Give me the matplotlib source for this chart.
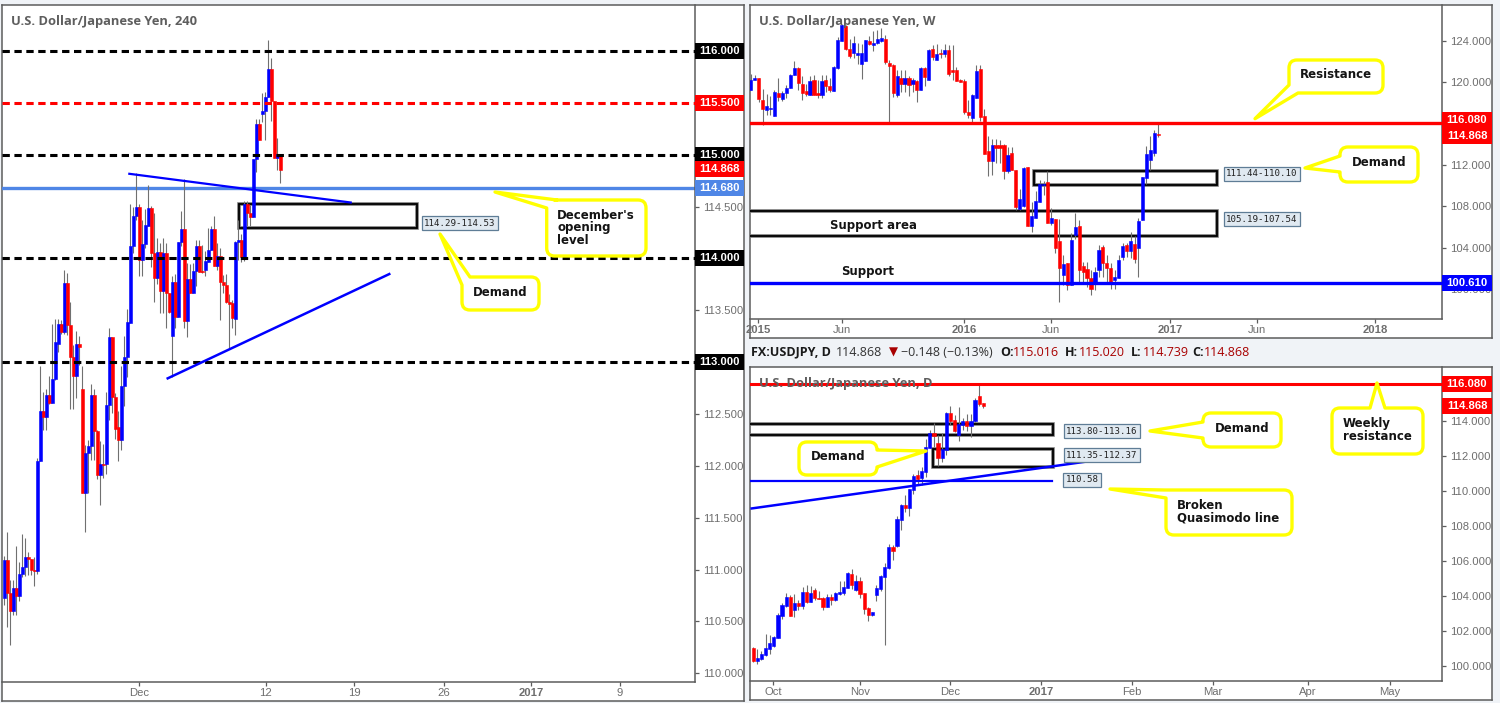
import numpy as np
import matplotlib
matplotlib.use("Agg")
import matplotlib.pyplot as plt
from matplotlib.path import Path
from matplotlib.patches import PathPatch, Rectangle
from matplotlib.transforms import blended_transform_factory

# 4 hour candles
h4_open = [110.73,111.09,110.77,110.60,110.82,110.74,110.96,111.02,111.12,111.10,111.00,110.99,112.05,112.53,112.47,112.68,112.61,112.84,113.18,113.37,113.29,113.76,113.36,113.05,112.87,113.18,112.74,111.74,112.12,112.19,112.68,112.34,111.91,112.02,112.02,112.59,113.24,112.66,112.37,112.25,112.77,113.05,113.38,114.12,114.41,114.50,113.99,114.14,114.31,114.49,114.05,113.81,114.06,113.69,114.05,113.67,113.25,113.775,113.44,114.16,114.28,113.40,113.80,113.67,113.88,114.12,113.88,113.89,113.97,114.08,114.28,113.93,114.02,113.77,113.74,113.58,113.57,113.42,114.16,114.18,114.01,114.53,114.44,114.40,114.96,115.30,115.39,115.42,115.56,115.83,115.52,114.97,115.01]
h4_high = [111.13,111.36,110.90,110.90,111.23,111.07,111.34,111.30,111.17,111.10,111.12,112.08,112.96,112.71,112.74,112.87,113.37,113.42,113.42,113.41,113.89,113.86,113.58,113.17,113.30,113.25,112.96,112.20,112.25,112.79,112.74,112.35,112.24,112.21,112.71,113.33,113.24,112.70,112.53,112.96,113.25,113.51,114.53,114.50,114.82,114.53,114.37,114.48,114.71,114.51,114.44,114.20,114.15,114.20,114.15,113.67,113.83,113.85,114.16,114.46,114.77,113.96,113.95,113.96,114.18,114.18,114.13,114.07,114.29,114.31,114.41,114.15,114.10,113.84,113.85,113.66,113.60,114.17,114.37,114.24,114.55,114.55,114.52,114.96,115.35,115.35,115.60,115.61,116.11,115.93,115.52,115.16,115.01]
h4_low = [110.66,110.45,110.27,110.56,110.56,110.70,110.93,110.94,110.95,110.95,110.84,110.96,112.05,112.35,112.35,112.60,112.61,112.83,113.10,113.27,113.27,113.26,112.55,112.55,112.65,112.97,111.74,111.36,111.74,112.06,112.06,111.87,111.62,111.88,111.92,112.44,112.51,112.26,112.05,112.15,112.58,112.86,113.38,114.05,114.37,113.83,113.83,114.10,114.31,113.92,113.58,113.75,113.47,113.47,113.33,113.47,112.86,113.33,113.44,114.12,113.33,113.24,113.67,113.67,113.73,113.87,113.86,113.83,113.97,114.08,113.93,113.89,113.41,113.67,113.57,113.13,113.33,113.26,113.99,113.97,113.98,114.31,114.31,114.40,114.83,115.14,115.32,115.14,115.56,115.33,114.97,114.85,114.73]
h4_close = [111.09,110.77,110.60,110.82,110.74,110.96,111.02,111.12,111.10,111.00,110.99,112.05,112.53,112.47,112.68,112.61,112.84,113.19,113.37,113.29,113.76,113.36,113.05,112.87,113.18,113.15,111.74,112.12,112.19,112.68,112.34,111.91,112.02,112.01,112.59,113.24,112.66,112.36,112.25,112.77,113.05,113.39,114.12,114.41,114.50,113.99,114.14,114.32,114.49,114.05,113.81,114.06,113.69,114.05,113.67,113.48,113.775,113.44,114.16,114.28,113.40,113.80,113.67,113.88,114.12,113.87,113.87,113.98,114.08,114.28,113.93,114.02,113.77,113.74,113.58,113.56,113.43,114.16,114.18,114.01,114.53,114.44,114.40,114.96,115.30,115.14,115.42,115.56,115.83,115.52,114.97,115.01,114.85]
h4_tick_pos = [44.9, 87.1, 116.6, 146.6, 175.6, 205.2]
h4_tick_labels = ["Dec", "12", "19", "26", "2017", "9"]
h4_levels = [116.0, 115.0, 114.0, 113.0]
h4_mid_level = 115.5
h4_open_level = 114.68
h4_zone = (114.29, 114.53)
h4_yticks = [110.0, 110.5, 111.0, 111.5, 112.0, 112.5, 113.0, 113.5, 114.0, 114.5, 115.0, 115.5, 116.0]
h4_ylabel_skip = [113.0, 114.0, 115.0, 115.5, 116.0]

# weekly candles
w_open = [119.31,120.21,120.40,118.28,117.31,117.41,116.73,118.95,118.41,118.95,119.50,120.69,121.40,119.82,119.15,118.76,120.27,118.95,118.76,120.21,119.63,119.15,121.37,124.01,125.43,123.21,122.82,122.63,121.76,122.05,123.98,123.62,123.79,123.98,124.17,121.85,121.66,118.76,120.47,119.89,120.47,119.82,120.11,119.24,121.37,120.21,123.21,122.14,122.82,122.72,123.11,121.18,121.18,120.21,120.11,117.12,116.54,118.47,121.27,116.73,113.35,112.35,113.93,113.93,113.93,111.42,113.16,111.51,107.74,108.03,111.80,106.10,106.87,108.42,110.03,110.35,106.42,106.78,104.65,101.37,102.53,100.40,105.23,106.10,102.24,101.95,101.08,100.50,101.85,104.07,102.53,102.04,100.88,101.08,103.14,104.27,103.72,104.36,103.98,106.74,110.74,112.54,113.19,115.02]
w_high = [120.79,120.69,120.40,119.34,118.86,118.66,119.24,120.47,119.18,119.73,120.85,122.05,121.50,120.63,119.89,120.60,120.76,120.21,120.69,120.69,120.44,121.56,124.40,125.69,125.52,124.24,124.46,123.82,123.75,124.14,124.46,124.98,125.04,125.27,124.56,122.14,121.76,121.18,121.18,121.18,120.60,120.47,120.27,121.50,121.50,123.27,123.59,123.75,123.27,123.69,123.59,123.59,121.50,120.37,120.37,118.28,118.92,121.66,121.66,117.47,114.80,114.48,114.48,114.41,114.03,113.77,113.77,111.51,109.71,111.77,111.84,108.45,109.52,110.55,110.48,111.45,107.81,106.78,106.78,103.30,102.53,105.39,107.39,106.68,102.66,102.66,101.85,102.17,104.27,104.27,103.30,102.49,101.85,103.30,104.43,104.43,105.55,105.13,106.84,110.87,113.83,114.80,115.38,116.02]
w_low = [119.31,120.21,118.12,115.86,116.83,116.83,116.73,118.18,118.18,118.53,119.50,120.69,119.24,118.28,118.66,118.76,118.76,118.53,118.50,119.08,119.08,119.15,121.34,124.01,123.17,122.40,122.40,121.76,120.37,122.05,123.59,123.04,123.75,123.91,121.82,116.09,118.60,118.60,119.05,119.08,118.66,119.08,118.12,119.24,119.63,120.21,122.14,122.14,122.40,122.46,120.60,120.27,120.11,120.05,116.99,116.51,115.96,118.47,116.28,113.06,110.93,111.03,112.16,112.16,110.64,111.19,111.51,107.65,107.65,107.97,106.10,105.52,106.87,108.42,109.10,106.36,106.20,103.46,98.76,100.40,99.92,100.40,104.81,100.56,100.56,100.24,99.43,99.92,101.21,101.21,100.72,100.05,100.05,101.04,102.82,103.14,102.98,102.50,101.21,106.68,110.22,111.51,112.87,114.73]
w_close = [120.27,120.40,118.41,117.41,117.70,117.54,119.05,118.57,118.95,119.50,120.69,121.37,119.95,118.95,118.86,120.15,118.76,118.76,120.15,119.63,119.24,121.47,124.07,125.52,123.21,122.53,123.82,122.82,122.82,124.07,123.69,123.79,124.17,124.27,121.95,121.59,118.95,120.60,119.82,120.47,119.79,120.21,119.24,121.37,120.50,123.11,122.46,122.72,122.72,123.11,120.79,120.98,120.11,120.08,117.12,116.83,118.76,121.08,116.63,113.06,112.35,113.93,113.64,113.64,111.42,112.96,111.51,107.94,108.71,111.71,106.10,107.07,108.52,110.13,110.22,106.42,106.87,103.98,102.04,102.43,100.40,104.75,106.00,101.85,101.66,101.08,100.01,101.66,103.78,102.53,102.04,100.72,101.17,102.82,104.17,103.72,104.65,102.91,106.58,110.87,113.12,113.45,115.09,114.87]
w_tick_pos = [1.8, 23.1, 53.9, 75.9, 106.0, 128.0, 157.8]
w_tick_labels = ["2015", "Jun", "2016", "Jun", "2017", "Jun", "2018"]
w_yticks = [100, 104, 108, 112, 116, 120, 124]
w_ylabel_skip = [116]
w_resistance = 116.08
w_support = 100.61
w_demand = (110.10, 111.44)
w_support_area = (105.19, 107.54)

# daily candles
d_open = [101.03,100.28,100.38,100.61,100.95,101.14,101.60,102.84,103.41,103.92,103.18,103.58,103.41,104.21,103.66,104.32,103.88,103.87,103.37,103.92,103.75,104.11,104.17,104.47,105.27,104.32,104.84,104.15,103.30,102.91,104.04,104.36,105.07,105.58,106.78,106.82,108.32,109.18,109.01,110.04,110.89,110.74,111.07,112.42,113.30,112.72,111.85,112.32,114.46,114.02,113.18,113.75,113.98,113.70,113.98,115.41,115.016]
d_high = [101.07,100.96,100.83,101.81,101.75,101.71,102.99,103.56,104.17,104.03,104.13,103.75,104.51,104.61,104.57,104.42,104.27,103.94,104.13,104.13,104.19,104.87,104.84,105.35,105.52,105.18,105.08,104.15,103.35,103.06,104.61,105.18,105.85,106.93,106.89,108.55,109.22,109.75,110.13,110.93,111.18,111.37,112.97,113.47,113.85,113.18,113.31,114.51,114.82,114.32,114.78,114.17,114.38,114.36,115.28,116.06,115.020]
d_low = [100.22,100.09,100.32,100.57,100.70,101.08,101.56,102.67,103.37,102.86,102.80,103.18,103.27,103.56,103.66,103.75,103.81,103.18,103.37,103.50,103.69,104.07,104.07,104.42,104.36,104.28,103.85,102.95,102.55,102.86,103.69,104.28,101.18,105.54,106.04,106.78,107.75,108.80,108.55,109.83,110.32,110.32,110.80,112.42,112.51,111.43,111.62,112.04,113.75,113.37,112.84,113.47,113.41,113.09,113.94,114.84,114.739]
d_close = [100.28,100.46,100.66,101.03,101.31,101.64,102.91,103.46,103.94,102.86,103.58,103.43,104.21,103.64,104.15,103.85,103.81,103.35,103.92,103.77,104.15,104.21,104.51,105.31,104.61,104.84,104.09,103.24,102.91,103.06,104.44,105.14,105.64,106.78,106.55,108.38,109.18,108.99,110.09,110.82,110.70,111.12,112.50,113.30,113.12,111.85,112.38,114.46,113.98,113.41,113.83,113.98,113.70,114.00,115.18,114.95,114.868]
d_tick_pos = [4.8, 26.0, 47.9, 70.0, 92.1, 111.9, 135.0, 155.0]
d_tick_labels = ["Oct", "Nov", "Dec", "2017", "Feb", "Mar", "Apr", "May"]
d_yticks = [100, 102, 104, 106, 108, 110, 112, 114, 116]
d_ylabel_skip = [116]
d_resistance = 116.08
d_qm_level = 110.58
d_zone_upper = (113.16, 113.80)
d_zone_lower = (111.35, 112.37)

BLUE = "#0000ff"
RED = "#ff0000"
GREY = "#6e6e6e"
BORDER = "#5c5c5c"
TICK_FONT = "Liberation Sans"
W, H = 1500, 703

fig = plt.figure(figsize=(15, 7.03), dpi=100, facecolor="#f0f3f7")


def pixel_axes(x0, y0, x1, y1, **kw):
    return fig.add_axes([x0 / W, 1 - y1 / H, (x1 - x0) / W, (y1 - y0) / H], **kw)


def panel(x0, y0, xr, yb, x1, y1, xlim, ylim, xticks, xlabels, yticks, skip):
    # outer frame, then the chart pane with the axes on the right and bottom
    back = pixel_axes(x0, y0, x1, y1)
    back.set_xticks([])
    back.set_yticks([])
    back.set_facecolor("white")
    for s in back.spines.values():
        s.set_color(BORDER)
        s.set_linewidth(1.1)
    ax = pixel_axes(x0, y0, xr, yb)
    ax.set_xlim(*xlim)
    ax.set_ylim(*ylim)
    ax.patch.set_alpha(0)
    ax.spines["left"].set_visible(False)
    ax.spines["top"].set_visible(False)
    ax.spines["right"].set_color(BORDER)
    ax.spines["bottom"].set_color(BORDER)
    ax.spines["right"].set_linewidth(1.1)
    ax.spines["bottom"].set_linewidth(1.1)
    ax.yaxis.tick_right()
    ax.set_yticks(yticks)
    # levels that carry a price box do not get a tick label of their own
    ax.set_yticklabels(["" if v in skip else "{:.3f}".format(v) for v in yticks])
    ax.set_xticks(xticks)
    ax.set_xticklabels(xlabels)
    ax.tick_params(length=3, width=0.9, color=BORDER, labelcolor=GREY, pad=3, labelsize=8.1)
    ax.tick_params(axis="x", pad=1)
    for t in ax.get_xticklabels() + ax.get_yticklabels():
        t.set_family(TICK_FONT)
    for t in ax.get_xticklabels():
        if t.get_text() in ("2015", "2016", "2017", "2018"):
            t.set_fontweight("bold")
    return ax


def candles(ax, o, h, l, c, width):
    o, h, l, c = map(np.array, (o, h, l, c))
    x = np.arange(len(o))
    ax.vlines(x, l, h, color="#707070", lw=0.8, zorder=3)
    colors = np.where(c >= o, BLUE, RED)
    ax.bar(x, np.abs(c - o), bottom=np.minimum(o, c), width=width,
           color=colors, edgecolor=colors, linewidth=0.4, zorder=4)


def zone(ax, x0, x1, low, high):
    # grey band under a thinner black line, no fill
    ax.add_patch(Rectangle((x0, low), x1 - x0, high - low, fill=False, ec="#777777", lw=2.6, zorder=2))
    ax.add_patch(Rectangle((x0, low), x1 - x0, high - low, fill=False, ec="black", lw=1.3, zorder=2))


def tag(ax, value, text, color, tag_w, at=None):
    # price box sitting on the right hand axis
    y = value if at is None else at
    trans = blended_transform_factory(ax.transAxes, ax.transData)
    ymin, ymax = ax.get_ylim()
    bbox = ax.get_position()
    dy = (ymax - ymin) / (bbox.height * H) * 16
    ax.add_patch(Rectangle((1, y - dy / 2), tag_w, dy, transform=trans, fc=color, ec="none",
                           clip_on=False, zorder=10))
    ax.text(1 + tag_w / 2, y, text, transform=trans, color="white", fontsize=8.1, fontweight="bold",
            family=TICK_FONT, ha="center", va="center", zorder=11, clip_on=False)


def callout(x0, y0, x1, y1, tip, b1, b2, where):
    # rounded box with a pointer, walked clockwise from the top left corner.
    # b1 and b2 are the pointer's base points in walking order
    r = 8
    tail = [b1, tip, b2]
    line = [Path.LINETO] * 3
    v = [(x0 + r, y0)]
    k = [Path.MOVETO]
    if where == "top":
        v += tail
        k += line
    v += [(x1 - r, y0), (x1, y0), (x1, y0 + r)]
    k += [Path.LINETO, Path.CURVE3, Path.CURVE3]
    if where == "right":
        v += tail
        k += line
    v += [(x1, y1 - r), (x1, y1), (x1 - r, y1)]
    k += [Path.LINETO, Path.CURVE3, Path.CURVE3]
    if where == "bl":
        v += tail + [(x0, y0 + r)]
        k += line + [Path.LINETO]
    else:
        v += [(x0 + r, y1), (x0, y1), (x0, y1 - r)]
        k += [Path.LINETO, Path.CURVE3, Path.CURVE3]
        if where == "left":
            v += tail
            k += line
        if where == "tl":
            v += tail
            k += line
        else:
            v += [(x0, y0 + r)]
            k += [Path.LINETO]
    if where == "tl":
        v += [(x0 + r, y0), (x0 + r, y0)]
        k += [Path.LINETO, Path.CLOSEPOLY]
    else:
        v += [(x0, y0), (x0 + r, y0), (x0 + r, y0)]
        k += [Path.CURVE3, Path.CURVE3, Path.CLOSEPOLY]
    over.add_patch(PathPatch(Path(v, k), fc="white", ec="#ffff00", lw=2.4, joinstyle="round", zorder=6))


def note(x, y, text, ha="center"):
    over.text(x, y, text, fontsize=8.5, fontweight="bold", color="#141414", ha=ha, va="center",
              linespacing=0.92, zorder=7)


def range_label(x, y, text):
    over.text(x, y, text, family="DejaVu Sans Mono", fontsize=6.6, color="#222222", ha="center", va="center",
              zorder=5, bbox=dict(boxstyle="square,pad=0.28", fc="#e0e9f1", ec="#5f7d96", lw=0.9))


# 240 panel
ax1 = panel(2, 4.5, 695, 682, 744, 701, (-0.78, 230.2), (109.915, 116.45), h4_tick_pos, h4_tick_labels,
            h4_yticks, h4_ylabel_skip)
candles(ax1, h4_open, h4_high, h4_low, h4_close, 1.0)
for lvl in h4_levels:
    ax1.axhline(lvl, color="black", lw=2.2, dashes=(2.4, 1.5), zorder=5)
ax1.axhline(h4_mid_level, color=RED, lw=2.2, dashes=(2.4, 1.5), zorder=5)
ax1.axhline(h4_open_level, color="#4f86e6", lw=2.4, zorder=2)
zone(ax1, 78.3, 137.6, *h4_zone)
ax1.plot([41.66, 115.45], [114.817, 114.54], color=BLUE, lw=1.6, zorder=5)
ax1.plot([54.45, 128.3], [112.844, 113.85], color=BLUE, lw=1.8, zorder=5)
w1 = 49 / 693
for lvl in h4_levels:
    tag(ax1, lvl, "{:.3f}".format(lvl), "black", w1)
tag(ax1, h4_mid_level, "115.500", RED, w1)
tag(ax1, 114.868, "114.868", RED, w1)
tag(ax1, h4_open_level, "114.680", "#4f86e6", w1)

# weekly panel
ax2 = panel(750, 4.5, 1442, 319, 1492, 338, (-0.18, 174.7), (97.12, 127.53), w_tick_pos, w_tick_labels,
            w_yticks, w_ylabel_skip)
candles(ax2, w_open, w_high, w_low, w_close, 0.8)
ax2.axhline(w_resistance, color=RED, lw=2.4, zorder=5)
ax2.axhline(w_support, color=BLUE, lw=2.4, zorder=5)
zone(ax2, 71.6, 117.8, *w_demand)
zone(ax2, -1, 117.8, *w_support_area)
w2 = 50 / 692
tag(ax2, w_resistance, "116.080", RED, w2, at=116.35)
tag(ax2, 114.868, "114.868", RED, w2, at=114.8)
tag(ax2, w_support, "100.610", BLUE, w2)

# daily panel
ax3 = panel(750, 366.7, 1442, 681, 1492, 700, (-0.80, 167.7), (99.13, 117.09), d_tick_pos, d_tick_labels,
            d_yticks, d_ylabel_skip)
candles(ax3, d_open, d_high, d_low, d_close, 0.78)
ax3.axhline(d_resistance, color=RED, lw=2.2, zorder=5)
ax3.plot([-0.8, 72.8], [d_qm_level, d_qm_level], color=BLUE, lw=1.6, zorder=5)
ax3.plot([-0.39, 83.6], [108.99, 111.75], color=BLUE, lw=1.8, zorder=5)
zone(ax3, -1, 73, *d_zone_upper)
zone(ax3, 43.75, 73, *d_zone_lower)
tag(ax3, d_resistance, "116.080", RED, w2)
tag(ax3, 114.868, "114.868", RED, w2)

# overlay in picture pixels for the hand drawn notes
over = fig.add_axes([0, 0, 1, 1])
over.set_xlim(0, W)
over.set_ylim(H, 0)
over.axis("off")

for x, y, s in [(11, 21, "U.S. Dollar/Japanese Yen, 240"), (759, 21, "U.S. Dollar/Japanese Yen, W"),
                (759, 383, "U.S. Dollar/Japanese Yen, D")]:
    over.text(x, y, s, family="Open Sans", fontsize=9.3, fontweight="bold", color="#5e5e5e", va="center",
              zorder=1)

head = [(751, "FX:USDJPY, D", "#1a1a1a", "bold"), (836, "114.868", "#333333", "normal"),
        (901, "\u22120.148 (\u22120.13%)", "#333333", "normal"), (1000, "O:", "#1a1a1a", "bold"),
        (1013, "115.016", "#a80000", "normal"), (1065, "H:", "#1a1a1a", "bold"),
        (1079, "115.020", "#a80000", "normal"), (1131, "L:", "#1a1a1a", "bold"),
        (1143, "114.739", "#a80000", "normal"), (1192, "C:", "#1a1a1a", "bold"),
        (1204, "114.868", "#a80000", "normal")]
for x, s, col, wt in head:
    over.text(x, 352, s, family="Open Sans", fontsize=9, color=col, fontweight=wt, va="center")
over.text(893, 352, "\u25bc", family="DejaVu Sans", fontsize=8.5, color="#a80000", ha="center", va="center")

callout(546.7, 200, 646, 256, (495, 192), (546.7, 208), (557, 200), "tl")
note(557, 228, "December's\nopening\nlevel", ha="left")
callout(462, 277, 539, 310, (440, 234), (462, 285), (470, 277), "tl")
note(500, 293, "Demand")
callout(1289, 60, 1383, 93, (1255, 118.7), (1298, 93), (1289, 85), "bl")
note(1336, 75, "Resistance")
callout(1340, 147, 1418, 182, (1305, 168), (1340, 172), (1340, 156), "left")
note(1379, 163, "Demand")
callout(1203, 413, 1281, 447, (1150, 431), (1203, 438), (1203, 422), "left")
note(1242, 429, "Demand")
callout(1332, 408, 1423, 454, (1377, 383), (1370, 408), (1385, 408), "top")
note(1343, 430, "Weekly\nresistance", ha="left")
callout(1166, 490, 1292, 535, (1110, 489), (1166, 498), (1165, 490), "tl")
note(1177, 512, "Broken\nQuasimodo line", ha="left")
callout(799, 442, 877, 475, (926, 451), (877, 450), (877, 467), "right")
note(838, 457, "Demand")

note(873, 225, "Support area")
note(868, 272, "Support")

range_label(460, 223, "114.29-114.53")
range_label(1262, 174, "111.44-110.10")
range_label(1262, 219, "105.19-107.54")
range_label(1102, 431, "113.80-113.16")
range_label(1102, 455, "111.35-112.37")
range_label(1082, 480, "110.58")

fig.savefig("out.png", dpi=100, facecolor=fig.get_facecolor())
